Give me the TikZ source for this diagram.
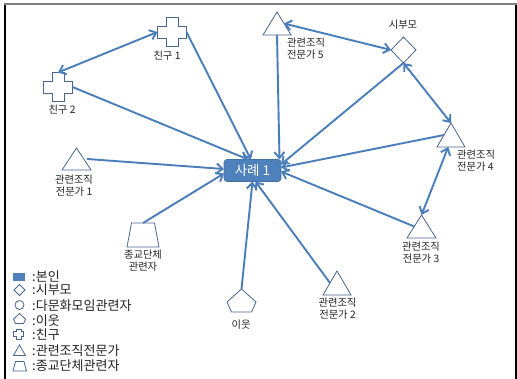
\documentclass[tikz,border=0pt]{standalone}
\usepackage{fontspec}
\newfontfamily\kr{Noto Sans CJK KR}
\usetikzlibrary{arrows.meta,calc}
\definecolor{lineblue}{HTML}{4A7EBB}
\definecolor{boxblue}{HTML}{4F81BD}
\definecolor{boxedge}{HTML}{41719C}
\definecolor{shpedge}{HTML}{4A6590}
\definecolor{txt}{HTML}{222222}
% #1 style, #2 centre, #3 half size, #4 half arm
\newcommand\drawplus[4]{\draw[#1,shift={#2}] (-#4,-#3) -- (#4,-#3) -- (#4,-#4) -- (#3,-#4) -- (#3,#4) -- (#4,#4) -- (#4,#3) -- (-#4,#3) -- (-#4,#4) -- (-#3,#4) -- (-#3,-#4) -- (-#4,-#4) -- cycle;}
% #1 style, #2 centre, #3 half width, #4 half height
\newcommand\drawpent[4]{\draw[#1,shift={#2}] (0,-#4) -- (#3,{0.13*#4}) -- ({0.69*#3},#4) -- ({-0.69*#3},#4) -- (-#3,{0.13*#4}) -- cycle;}
\begin{document}
\begin{tikzpicture}[x=1pt,y=-1pt,
  >={Straight Barb[length=6pt,width=10pt]},
  hit/.style 2 args={rectangle,minimum width=#1,minimum height=#2,inner sep=0pt,outer sep=0pt},
  shp/.style={draw=shpedge,line width=0.8pt,fill=white},
  conn/.style={draw=lineblue,line width=1.9pt,->},
  conntwo/.style={draw=lineblue,line width=1.9pt,<->},
  lbl/.style={font=\kr\fontsize{10.3}{12}\selectfont,text=txt,inner sep=0pt,align=center},
  lgd/.style={font=\kr\fontsize{13}{14}\selectfont,text=txt,inner sep=0pt,anchor=west},
  ]
\useasboundingbox (0,0) rectangle (517,379);
\fill[white] (0,0) rectangle (517,379);
% frame
\draw[black,line width=1.2pt] (5,4) -- (5,380);
\draw[black,line width=1.2pt] (516,4) -- (516,380);
\draw[gray,line width=2pt] (4.4,4) -- (517,4);

% nodes
\node[hit={57}{22},rounded corners=3pt,fill=boxblue,draw=boxedge,line width=0.6pt,text=white,font=\kr\fontsize{13.5}{15}\selectfont] (case) at (252.5,170.5) {사례 1};
\node[hit={29}{29}] (f1) at (172,32) {};
\node[hit={29}{29}] (f2) at (58,87) {};
\node[hit={29}{22}] (t1) at (76.5,159) {};
\node[hit={28}{23}] (t5) at (277,23.5) {};
\node[hit={25}{26}] (sb) at (403.5,50) {};
\node[hit={28}{24}] (t4) at (451,135) {};
\node[hit={29}{23}] (t3) at (421.5,226.5) {};
\node[hit={28}{24}] (t2) at (337,283) {};
\node[hit={32}{24}] (rel) at (143,235) {};
\node[hit={29}{23}] (nb) at (241.5,300.5) {};

% shapes
\drawplus{shp}{(f1.center)}{14.5}{6}
\drawplus{shp}{(f2.center)}{14.5}{6}
\foreach \t in {t1,t2,t3,t4,t5}{
  \draw[shp] (\t.north) -- (\t.south east) -- (\t.south west) -- cycle;
}
\draw[shp] (sb.north) -- (sb.east) -- (sb.south) -- (sb.west) -- cycle;
\draw[shp] ([xshift=4.5pt]rel.north west) -- ([xshift=-4.5pt]rel.north east) -- (rel.south east) -- (rel.south west) -- cycle;
\drawpent{shp}{(nb.center)}{14.5}{11.5}

% labels
\node[lbl] (lf1) at (167,56) {친구 1};
\node[lbl] (lf2) at (62,110) {친구 2};
\node[lbl] (lt1) at (74,186) {관련조직\\전문가 1};
\node[lbl,align=left,anchor=west] (lt5) at (287,49) {관련조직\\전문가 5};
\node[lbl] (lsb) at (403,25) {시부모};
\node[lbl,align=left,anchor=west] (lt4) at (457,161) {관련조직\\전문가 4};
\node[lbl] (lt3) at (421,252.5) {관련조직\\전문가 3};
\node[lbl] (lt2) at (337.5,309) {관련조직\\전문가 2};
\node[lbl] (lrel) at (143,260.5) {종교단체\\관련자};
\node[lbl] (lnb) at (241,325) {이웃};

% connectors
\draw[conntwo] (f1.west) -- (f2.north);
\draw[conn] (f1.east) -- (case.98);
\draw[conn] (f2.east) -- (case.112);
\draw[conn] ([xshift=-4pt]t1.east) -- (case.177);
\draw[conn] (rel.north) -- (case.186);
\draw[conn] (nb.north) -- (case.south);
\draw[conn] ($(t2.north)!0.5!(t2.south west)$) -- (case.285);
\draw[conn] ($(t3.north)!0.5!(t3.south west)$) -- (case.358);
\draw[conn] ($(t4.north)!0.5!(t4.south west)$) -- (case.6);
\draw[conn] (sb.south) -- (case.12);
\draw[conn] (t5.south) -- ([xshift=-1.5pt]case.north east);
\draw[conntwo] ($(t5.north)!0.5!(t5.south east)$) -- (sb.west);
\draw[conntwo] (sb.south) -- (t4.north);
\draw[conntwo] (t3.north) -- ($(t4.south west)!0.4!(t4.south east)$);

% legend
\fill[boxblue] (13,273) rectangle (25,281);
\draw[shp] (19.5,284.5) -- (25,290) -- (19.5,295.5) -- (14,290) -- cycle;
\draw[shp] (19.5,305) circle[radius=4.5];
\drawpent{shp}{(19.5,318.5)}{6}{5}
\drawplus{shp}{(18.5,334)}{5}{2.5}
\draw[shp] (19.5,345) -- (25.5,355.5) -- (13.5,355.5) -- cycle;
\draw[shp] (15.5,361.5) -- (24,361.5) -- (26.5,371) -- (13,371) -- cycle;
\node[lgd] (lg1) at (32,277) {:본인};
\node[lgd] (lg2) at (32,290) {:시부모};
\node[lgd] (lg3) at (32,306) {:다문화모임관련자};
\node[lgd] (lg4) at (32,320.5) {:이웃};
\node[lgd] (lg5) at (32,334.5) {:친구};
\node[lgd] (lg6) at (32,351) {:관련조직전문가};
\node[lgd] (lg7) at (32,366) {:종교단체관련자};
\end{tikzpicture}
\end{document}
